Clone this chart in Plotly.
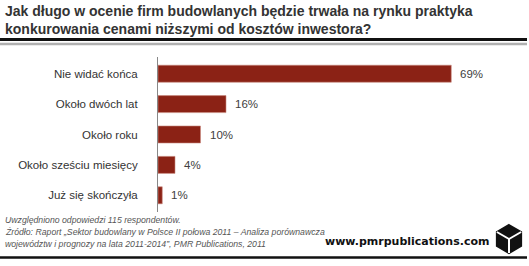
import plotly.graph_objects as go
import math

categories = ["Nie widać końca", "Około dwóch lat", "Około roku", "Około sześciu miesięcy", "Już się skończyła"]
values = [69, 16, 10, 4, 1]
value_labels = ["69%", "16%", "10%", "4%", "1%"]

title_text = "Jak długo w ocenie firm budowlanych będzie trwała na rynku praktyka<br>konkurowania cenami niższymi od kosztów inwestora?"
footer_lines = [
    "Uwzględniono odpowiedzi 115 respondentów.",
    "Źródło: Raport „Sektor budowlany w Polsce II połowa 2011 – Analiza porównawcza",
    "województw i prognozy na lata 2011-2014”, PMR Publications, 2011",
]
site = "www.pmrpublications.com"

W, H = 529, 266
L, T, PW, PH = 158, 57, 340, 155
R = W - L - PW
B = H - T - PH


def px(x):
    return (x - L) / PW


def py(y):
    return (T + PH - y) / PH


fig = go.Figure()
fig.add_trace(go.Bar(
    y=categories, x=values, orientation="h",
    marker=dict(color="#8B2215", line=dict(color="#c98a80", width=0.6)),
    width=0.56, hoverinfo="skip",
))

annotations = []
for c, v, t in zip(categories, values, value_labels):
    annotations.append(dict(x=v, y=c, xref="x", yref="y", text=t, showarrow=False,
                            xanchor="left", xshift=7,
                            font=dict(family="Liberation Sans, Arial", size=11.5, color="#404040")))

annotations.append(dict(x=px(3), y=py(1), xref="paper", yref="paper", text="<b>" + title_text + "</b>",
                        showarrow=False, xanchor="left", yanchor="top", align="left",
                        font=dict(family="Liberation Sans, Arial", size=14, color="#333333")))
for i, line in enumerate(footer_lines):
    annotations.append(dict(x=px(3), y=py(220 + 12 * i), xref="paper", yref="paper", text="<i>" + line + "</i>",
                            showarrow=False, xanchor="left", yanchor="middle", align="left",
                            font=dict(family="Liberation Sans, Arial", size=8.7, color="#555555")))
annotations.append(dict(x=px(491), y=py(241), xref="paper", yref="paper", text="<b>" + site + "</b>",
                        showarrow=False, xanchor="right", yanchor="middle",
                        font=dict(family="DejaVu Sans", size=11, color="#111111")))

shapes = [
    dict(type="line", xref="paper", yref="paper", x0=px(0), x1=px(527), y0=py(39.5), y1=py(39.5),
         line=dict(color="#111111", width=3)),
    dict(type="line", xref="paper", yref="paper", x0=px(0), x1=px(527), y0=py(44), y1=py(44),
         line=dict(color="#b0b0b0", width=2.5)),
    dict(type="line", xref="paper", yref="paper", x0=px(0), x1=px(527), y0=py(257.5), y1=py(257.5),
         line=dict(color="#111111", width=2.5)),
]
# logo: cube
cx, cy, r = 509, 239, 14
pts = [(cx + r * math.sin(math.radians(a)), cy - r * math.cos(math.radians(a))) for a in range(0, 360, 60)]
path = "M " + " L ".join(f"{px(x):.5f},{py(y):.5f}" for x, y in pts) + " Z"
shapes.append(dict(type="path", xref="paper", yref="paper", path=path,
                   fillcolor="#111111", line=dict(color="#111111", width=2)))
for a in (0, 120, 240):
    ex = cx + r * math.sin(math.radians(a + 180))
    ey = cy - r * math.cos(math.radians(a + 180))
    shapes.append(dict(type="line", xref="paper", yref="paper", x0=px(cx), y0=py(cy), x1=px(ex), y1=py(ey),
                       line=dict(color="white", width=2)))

fig.update_layout(
    width=W, height=H, margin=dict(l=L, r=R, t=T, b=B),
    paper_bgcolor="white", plot_bgcolor="white", showlegend=False,
    annotations=annotations, shapes=shapes,
    xaxis=dict(range=[0, PW / 4.25], visible=False, fixedrange=True),
    yaxis=dict(range=[4.55, -0.55], type="category", showline=True, linecolor="#888888", linewidth=1,
               showgrid=False, zeroline=False, ticks="", ticklabelstandoff=17,
               tickfont=dict(family="Liberation Sans, Arial", size=11.5, color="#333333")),
    font=dict(family="Liberation Sans, Arial"),
)

fig.write_html("out.html")
